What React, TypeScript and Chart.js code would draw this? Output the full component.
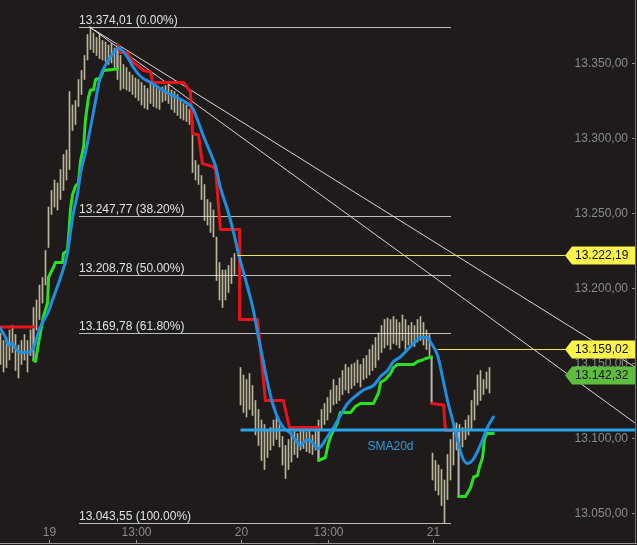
import React, { useEffect, useRef } from "react";
import { Chart, registerables } from "chart.js";

Chart.register(...registerables);

// ---- data ----
// x values are bar slots (one slot per bar)
const xTickSlots = [16, 45, 80, 109, 144];
const xTickLabels = ["19", "13:00", "20", "13:00", "21"];
const yTickValues = [13050, 13100, 13150, 13200, 13250, 13300, 13350];

const barHigh: (number | null)[] = [
  13170, 13165, 13167, 13172, 13175, 13169, 13162, 13165, 13169, 13165,
  13172, 13187, 13192, 13202, 13207, 13225, 13254, 13265, 13272, 13270,
  13279, 13289, 13292, 13331, 13322, 13325, 13339, 13345, 13355, 13369,
  13374.01, 13370, 13367, 13369, 13365, 13364, 13362, 13363, 13360, 13359,
  13355, 13349, 13347, 13344, 13342, 13340, 13339, 13337, 13335, 13333,
  13337, 13335, 13333, 13332, 13334, 13335, 13337, 13332, 13331, 13329,
  13325, 13323, 13322, 13319, 13312, 13285, 13282, 13275, 13269, 13259,
  13257, 13252, 13234, 13217, 13212, 13212, 13215, 13220, 13223, null,
  13147, 13142, 13139, 13143, 13135, 13125, 13119, 13112, 13109, 13105,
  13107, 13112, 13114, 13109, 13101, 13095, 13099, 13104, 13105, 13103,
  13107, 13107, 13104, 13105, 13102, 13107, 13112, 13119, 13123, 13127,
  13132, 13139, 13135, 13140, 13145, 13149, 13147, 13149, 13150, 13152,
  13149, 13153, 13155, 13159, 13162, 13167, 13170, 13175, 13179, 13180,
  13179, 13181, 13179, 13177, 13182, 13179, 13175, 13177, 13175, 13179,
  13181, 13177, 13172, 13169, 13090, 13085, 13082, 13079, 13072, 13089,
  13099, 13107, 13110, 13109, 13107, 13112, 13115, 13125, 13132, 13142,
  13145, 13139, 13144, 13147,
];
const barLow: (number | null)[] = [
  13149, 13144, 13147, 13152, 13157, 13145, 13140, 13149, 13152, 13144,
  13155, 13162, 13172, 13179, 13190, 13202, 13227, 13249, 13254, 13252,
  13259, 13265, 13272, 13279, 13305, 13309, 13321, 13329, 13339, 13352,
  13359, 13357, 13355, 13353, 13352, 13351, 13349, 13350, 13347, 13339,
  13332, 13333, 13332, 13331, 13329, 13327, 13325, 13322, 13320, 13319,
  13323, 13321, 13320, 13319, 13324, 13325, 13323, 13319, 13317, 13315,
  13313, 13312, 13311, 13309, 13277, 13272, 13269, 13259, 13245, 13242,
  13237, 13234, 13205, 13192, 13187, 13192, 13197, 13203, 13209, null,
  13122, 13117, 13114, 13119, 13115, 13102, 13095, 13085, 13079, 13087,
  13092, 13095, 13099, 13094, 13082, 13073, 13079, 13084, 13089, 13087,
  13092, 13093, 13091, 13090, 13089, 13092, 13085, 13105, 13109, 13112,
  13117, 13122, 13123, 13125, 13129, 13132, 13130, 13133, 13135, 13137,
  13134, 13139, 13140, 13142, 13145, 13147, 13152, 13157, 13160, 13162,
  13159, 13163, 13162, 13160, 13165, 13159, 13162, 13163, 13161, 13164,
  13165, 13162, 13159, 13155, 13072, 13065, 13062, 13055, 13043.55, 13059,
  13072, 13082, 13092, 13095, 13094, 13099, 13102, 13105, 13112, 13122,
  13125, 13129, 13133, 13130,
];

type Pt = [number, number] | null;

const redStop: Pt[] = [
  [0, 13174], [11, 13174], null,
  [39.3, 13362], [40, 13357], [42.3, 13357], [44, 13351], [47.7, 13345], [50, 13344],
  [50.7, 13337], [61, 13337], [63.3, 13331], [64, 13303], [66, 13302], [67.3, 13283],
  [70.7, 13281], [71.7, 13279], [73.3, 13239], [79.7, 13239], [79.7, 13179], [85.7, 13179],
  [88.3, 13125], [94.3, 13125], [96.3, 13107], [106, 13107], null,
  [143.7, 13123], [147.7, 13122], [148.3, 13105], [152.7, 13105],
];

const greenStop: Pt[] = [
  [11, 13152], [11.7, 13151], [12.3, 13159], [13.3, 13170], [14.3, 13181], [15.7, 13190],
  [16, 13207], [16.7, 13210], [17.7, 13214], [18.3, 13217], [20.7, 13217], [21, 13223],
  [22.3, 13225], [22.7, 13234], [23.3, 13252], [24, 13262], [25, 13268], [26, 13270],
  [26.7, 13285], [27.7, 13294], [28.3, 13312], [29.3, 13327], [30, 13332], [31, 13332],
  [31.7, 13339], [33.3, 13340], [34.3, 13345], [39, 13346], null,
  [106, 13085], [108.3, 13087], [109, 13094], [110, 13101], [111, 13105], [112.3, 13110],
  [113.3, 13117], [116.7, 13117], [118.3, 13121], [120, 13123], [124.3, 13123], [126, 13130],
  [126.7, 13137], [128.3, 13139], [130, 13143], [131, 13147], [132.3, 13149], [137.7, 13149],
  [139, 13151], [140.7, 13152], [141.7, 13153], [143.7, 13154], null,
  [152.7, 13061], [155, 13061], [156.7, 13067], [157.7, 13074], [159, 13075], [159.7, 13081],
  [160.7, 13087], [161.3, 13099], [162, 13103], [164.3, 13103],
];

const flipLines: Pt[] = [
  [11, 13174], [11, 13152], null,
  [39, 13346], [39, 13362], null,
  [106, 13107], [106, 13085], null,
  [143.7, 13154], [143.7, 13123], null,
  [152.7, 13105], [152.7, 13061],
];

const blueAvg: Pt[] = [
  [0, 13173], [1.7, 13167], [2.7, 13162], [4, 13163], [5, 13160], [6.7, 13157], [9, 13157],
  [10.7, 13159], [11.7, 13164], [12.7, 13171], [14, 13177], [15.7, 13183], [17.7, 13194],
  [20, 13207], [22.3, 13223], [23.3, 13237], [24.3, 13250], [25.7, 13263], [26.7, 13277],
  [28.3, 13290], [30, 13307], [31.7, 13325], [33.3, 13341], [35.7, 13351], [37.7, 13357],
  [39.3, 13360], [42.3, 13354], [44.3, 13347], [46.7, 13341], [50, 13337], [55.7, 13330],
  [59, 13327], [62.3, 13323], [64, 13320], [65.7, 13312], [67.7, 13301], [70, 13290],
  [71.7, 13281], [73.3, 13267], [75.7, 13252], [77.7, 13237], [79.3, 13223], [82.3, 13201],
  [84.3, 13185], [86, 13167], [87.7, 13150], [89, 13137], [90.7, 13123], [92.7, 13112],
  [94.3, 13107], [96.7, 13103], [99, 13097], [100, 13095], [101, 13097], [102.3, 13099],
  [104, 13097], [105.7, 13093], [106.7, 13094], [109, 13101], [111, 13107], [113.3, 13115],
  [115.7, 13123], [119, 13129], [121, 13132], [124.3, 13135], [126.7, 13141], [129, 13145],
  [131, 13151], [133.3, 13154], [135.7, 13159], [137.7, 13163], [140, 13167], [142.3, 13167],
  [143.3, 13164], [145.7, 13155], [147.3, 13141], [149, 13125], [150.7, 13112], [152.3, 13099],
  [154, 13087], [155.7, 13083], [157.3, 13085], [159, 13091], [160.7, 13099], [162.3, 13107],
  [164.3, 13114],
];

const trendUpper: Pt[] = [[29.7, 13374.01], [211.5, 13147.3]];
const trendLower: Pt[] = [[29.7, 13374.01], [211.5, 13110]];

const fibLevels = [13374.01, 13247.77, 13208.78, 13169.78, 13043.55];
const fibPct = ["0.00%", "38.20%", "50.00%", "61.80%", "100.00%"];
const fibStartSlot = 26.3;
const fibEndSlot = 150.3;

const markerValues = [13222.19, 13159.02, 13142.32];
const markerLineStart: (number | null)[] = [79, 145.7, null];
const markerFill = ["#fbf34b", "#fbf34b", "#5fbd3e"];

const smaLevel = 13105.3;
const smaStartSlot = 80;
const smaLabel = "SMA20d";
const smaLabelSlot = 130;

// ---- helpers ----
const FONT = '12px "Liberation Sans", Arial, sans-serif';
function fmt(v: number): string {
  const [i, d] = v.toFixed(2).split(".");
  return i.replace(/\B(?=(\d{3})+(?!\d))/g, ".") + "," + d;
}
function toXY(arr: Pt[]) {
  const out: { x: number; y: number | null }[] = [];
  let lastX = 0;
  for (const p of arr) {
    if (p) {
      out.push({ x: p[0], y: p[1] });
      lastX = p[0];
    } else out.push({ x: lastX, y: null });
  }
  return out;
}

const overlay = {
  id: "overlay",
  beforeDraw(chart: any) {
    const ctx = chart.ctx;
    ctx.save();
    ctx.fillStyle = "#1e1b1a";
    ctx.fillRect(0, 0, chart.width, chart.height);
    ctx.restore();
  },
  beforeDatasetsDraw(chart: any) {
    const ctx = chart.ctx;
    const xs = chart.scales.x;
    const ys = chart.scales.y;
    ctx.save();
    ctx.font = FONT;
    const x0 = Math.round(xs.getPixelForValue(fibStartSlot));
    const x1 = Math.round(xs.getPixelForValue(fibEndSlot));
    fibLevels.forEach((lv, i) => {
      const y = Math.round(ys.getPixelForValue(lv)) + 0.5;
      ctx.strokeStyle = "#bdbdbd";
      ctx.lineWidth = 1;
      ctx.beginPath();
      ctx.moveTo(x0, y);
      ctx.lineTo(x1, y);
      ctx.stroke();
      ctx.fillStyle = "#e2e2e2";
      ctx.textAlign = "left";
      ctx.textBaseline = "alphabetic";
      ctx.fillText(fmt(lv) + " (" + fibPct[i] + ")", x0, y - 3.5);
    });
    ctx.restore();
  },
  afterDatasetsDraw(chart: any) {
    const ctx = chart.ctx;
    const xs = chart.scales.x;
    const ys = chart.scales.y;
    const area = chart.chartArea;
    ctx.save();
    ctx.font = FONT;

    // y ticks
    ctx.textAlign = "right";
    ctx.textBaseline = "middle";
    yTickValues.forEach((v) => {
      const y = Math.round(ys.getPixelForValue(v)) + 0.5;
      ctx.fillStyle = "#8b8b8b";
      ctx.fillText(fmt(v), area.right - 7, y);
      ctx.strokeStyle = "#8b8b8b";
      ctx.lineWidth = 1;
      ctx.beginPath();
      ctx.moveTo(area.right - 3, y);
      ctx.lineTo(area.right + 1, y);
      ctx.stroke();
    });
    // right axis line
    ctx.strokeStyle = "#6f6f6f";
    ctx.beginPath();
    ctx.moveTo(area.right + 0.5, area.top);
    ctx.lineTo(area.right + 0.5, area.bottom);
    ctx.stroke();

    // x axis
    ctx.strokeStyle = "#9a9a9a";
    ctx.beginPath();
    ctx.moveTo(area.left, area.bottom + 0.5);
    ctx.lineTo(area.right + 2, area.bottom + 0.5);
    ctx.stroke();
    ctx.textAlign = "center";
    ctx.textBaseline = "alphabetic";
    xTickSlots.forEach((s, i) => {
      const x = Math.round(xs.getPixelForValue(s)) + 0.5;
      ctx.fillStyle = "#8b8b8b";
      ctx.fillText(xTickLabels[i], x, area.bottom - 7);
      ctx.beginPath();
      ctx.moveTo(x, area.bottom - 3);
      ctx.lineTo(x, area.bottom);
      ctx.stroke();
    });

    // SMA20d level
    const sy = ys.getPixelForValue(smaLevel);
    ctx.strokeStyle = "#27a4e8";
    ctx.lineWidth = 3;
    ctx.beginPath();
    ctx.moveTo(xs.getPixelForValue(smaStartSlot), sy);
    ctx.lineTo(area.right, sy);
    ctx.stroke();
    ctx.fillStyle = "#27a0e0";
    ctx.textAlign = "center";
    ctx.textBaseline = "middle";
    ctx.fillText(smaLabel, xs.getPixelForValue(smaLabelSlot), sy + 17);

    // price markers
    const tagRight = area.right;
    const tipX = tagRight - 70;
    markerValues.forEach((v, i) => {
      const y = Math.round(ys.getPixelForValue(v)) + 0.5;
      const start = markerLineStart[i];
      if (start !== null) {
        ctx.strokeStyle = "#ece64a";
        ctx.lineWidth = 1;
        ctx.beginPath();
        ctx.moveTo(xs.getPixelForValue(start), y);
        ctx.lineTo(tipX, y);
        ctx.stroke();
      }
      ctx.fillStyle = markerFill[i];
      ctx.beginPath();
      ctx.moveTo(tipX, y);
      ctx.lineTo(tagRight - 63, y - 9);
      ctx.lineTo(tagRight, y - 9);
      ctx.lineTo(tagRight, y + 9);
      ctx.lineTo(tagRight - 63, y + 9);
      ctx.closePath();
      ctx.fill();
      ctx.fillStyle = "#111111";
      ctx.textAlign = "left";
      ctx.textBaseline = "middle";
      ctx.fillText(fmt(v), tagRight - 60, y + 0.5);
    });
    ctx.restore();
  },
};

export default function App() {
  const ref = useRef<HTMLCanvasElement | null>(null);
  useEffect(() => {
    if (!ref.current) return;
    const bars: any[] = [];
    barHigh.forEach((h, i) => {
      const l = barLow[i];
      if (h !== null && l !== null) bars.push({ x: i, y: [l, h] });
    });
    const lineDs = (label: string, pts: Pt[], color: string, width: number, order: number, extra: any = {}) => ({
      type: "line" as const,
      label,
      data: toXY(pts),
      borderColor: color,
      borderWidth: width,
      pointRadius: 0,
      fill: false,
      spanGaps: false,
      tension: 0,
      borderJoinStyle: "round",
      borderCapStyle: "round",
      order,
      ...extra,
    });
    const chart = new Chart(ref.current, {
      type: "bar",
      data: {
        datasets: [
          lineDs("SMA", blueAvg, "#1e8fe0", 3, 1, { cubicInterpolationMode: "monotone" }),
          lineDs("Long stop", greenStop, "#27e021", 3, 2),
          lineDs("Short stop", redStop, "#e8141a", 3, 3),
          lineDs("Flip", flipLines, "#b4b4b4", 2, 4, { borderCapStyle: "butt" }),
          lineDs("Trend 1", trendUpper, "#d6d6d6", 1, 5),
          lineDs("Trend 2", trendLower, "#d6d6d6", 1, 6),
          {
            type: "bar" as const,
            label: "Price",
            data: bars,
            backgroundColor: "rgba(232,224,192,0.78)",
            borderWidth: 0,
            barThickness: 1,
            grouped: false,
            order: 10,
          },
        ] as any,
      },
      options: {
        responsive: false,
        animation: false,
        devicePixelRatio: 1,
        layout: { padding: { left: 0, top: 0, right: 2, bottom: 2 } },
        plugins: { legend: { display: false }, tooltip: { enabled: false } },
        scales: {
          x: { type: "linear", min: -1 / 6, max: 211.5, display: false, offset: false },
          y: { type: "linear", min: 13030, max: 13392, display: false },
        },
      } as any,
      plugins: [overlay],
    });
    return () => chart.destroy();
  }, []);
  return (
    <div style={{ position: "fixed", left: 0, top: 0, width: 637, height: 545, background: "#1e1b1a" }}>
      <canvas ref={ref} width={637} height={545} style={{ display: "block", width: 637, height: 545 }} />
    </div>
  );
}
